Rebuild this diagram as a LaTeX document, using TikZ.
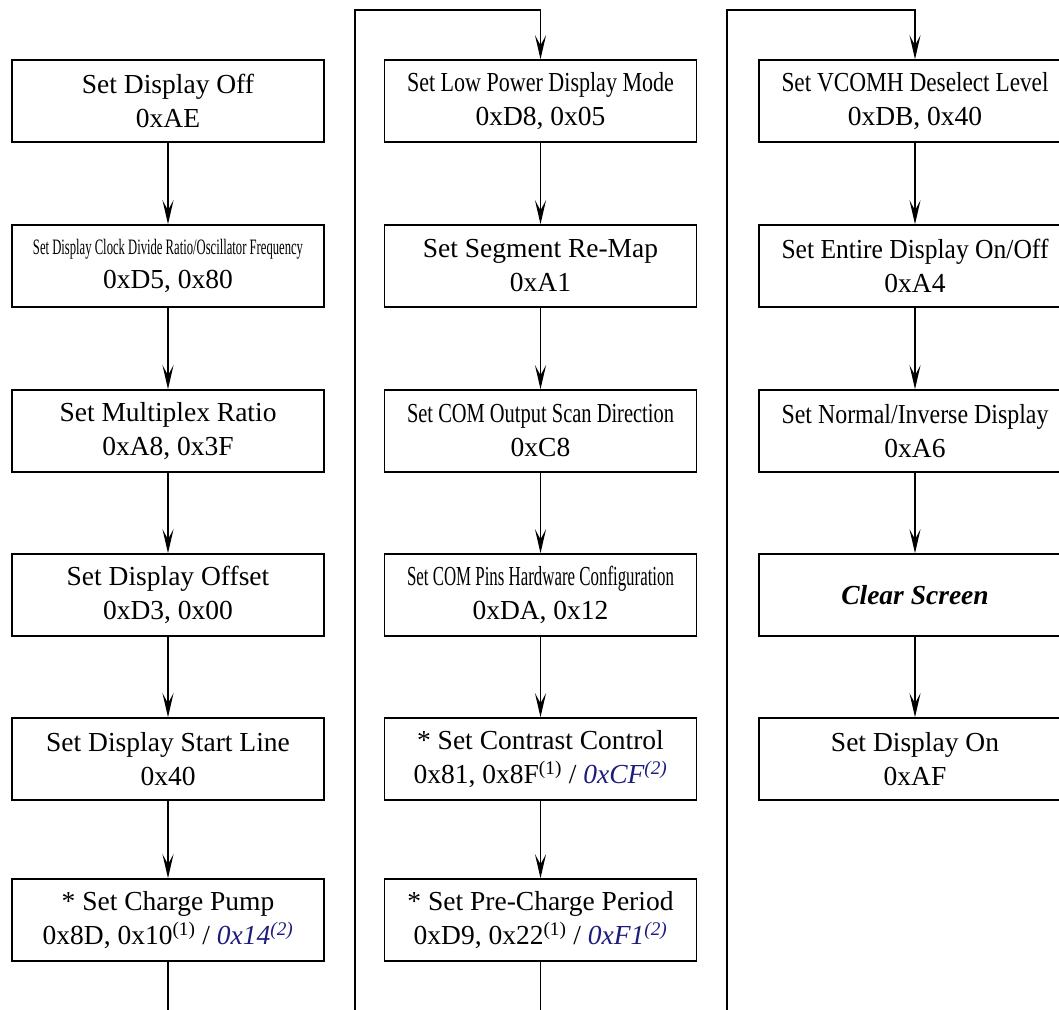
\documentclass[tikz,border=0pt]{standalone}
\usepackage{fontspec}
\setmainfont{Liberation Serif}
\usepackage{graphicx}
\usetikzlibrary{arrows.meta}
\definecolor{ssdblue}{RGB}{28,28,125}
\newcommand{\fitt}[1]{\resizebox{267pt}{\height}{#1}}
\newcommand{\bl}[1]{\textcolor{ssdblue}{\textit{#1}}}
\begin{document}
\begin{tikzpicture}[x=1pt,y=-1pt,
 box/.style={draw, line width=1.5pt, minimum width=312pt, minimum height=82pt, align=center, font=\fontsize{27.5}{34}\selectfont, inner sep=0pt},
 flow/.style={line width=1.5pt, -{Stealth[length=24pt,width=11pt,inset=10pt]}}]
\useasboundingbox (0,0) rectangle (1059,1009);
\clip (0,0) rectangle (1059,1009);
% column 1
\node[box] (a1) at (168,101) {Set Display Off\\0xAE};
\node[box] (a2) at (168,266) {{\fontsize{22}{26}\selectfont\resizebox{270pt}{\height}{Set Display Clock Divide Ratio/Oscillator Frequency}}\\0xD5, 0x80};
\node[box] (a3) at (168,431) {Set Multiplex Ratio\\0xA8, 0x3F};
\node[box] (a4) at (168,595) {Set Display Offset\\0xD3, 0x00};
\node[box] (a5) at (168,759) {Set Display Start Line\\0x40};
\node[box] (a6) at (168,920) {* Set Charge Pump\\0x8D, 0x10\textsuperscript{(1)} / \bl{0x14\textsuperscript{(2)}}};
% column 2
\node[box] (b1) at (540.5,101) {\fitt{Set Low Power Display Mode}\\0xD8, 0x05};
\node[box] (b2) at (540.5,266) {Set Segment Re-Map\\0xA1};
\node[box] (b3) at (540.5,431) {\fitt{Set COM Output Scan Direction}\\0xC8};
\node[box] (b4) at (540.5,595) {\fitt{Set COM Pins Hardware Configuration}\\0xDA, 0x12};
\node[box] (b5) at (540.5,759) {* Set Contrast Control\\0x81, 0x8F\textsuperscript{(1)} / \bl{0xCF\textsuperscript{(2)}}};
\node[box] (b6) at (540.5,920) {* Set Pre-Charge Period\\0xD9, 0x22\textsuperscript{(1)} / \bl{0xF1\textsuperscript{(2)}}};
% column 3
\node[box] (c1) at (915,101) {\fitt{Set VCOMH Deselect Level}\\0xDB, 0x40};
\node[box] (c2) at (915,266) {\fitt{Set Entire Display On/Off}\\0xA4};
\node[box] (c3) at (915,431) {\fitt{Set Normal/Inverse Display}\\0xA6};
\node[box] (c4) at (915,595) {\textbf{\textit{Clear Screen}}};
\node[box] (c5) at (915,759) {Set Display On\\0xAF};
% connectors
\foreach \p/\q in {a1/a2,a2/a3,a3/a4,a4/a5,a5/a6,b1/b2,b2/b3,b3/b4,b4/b5,b5/b6,c1/c2,c2/c3,c3/c4,c4/c5}
  \draw[flow] (\p.south) -- (\q.north);
\draw[flow] (a6.south) -- ++(0,80) -| (355,1040) |- (540.5,10) -- (b1.north);
\draw[flow] (b6.south) -- ++(0,80) -| (727,1040) |- (915,10) -- (c1.north);
\end{tikzpicture}
\end{document}
